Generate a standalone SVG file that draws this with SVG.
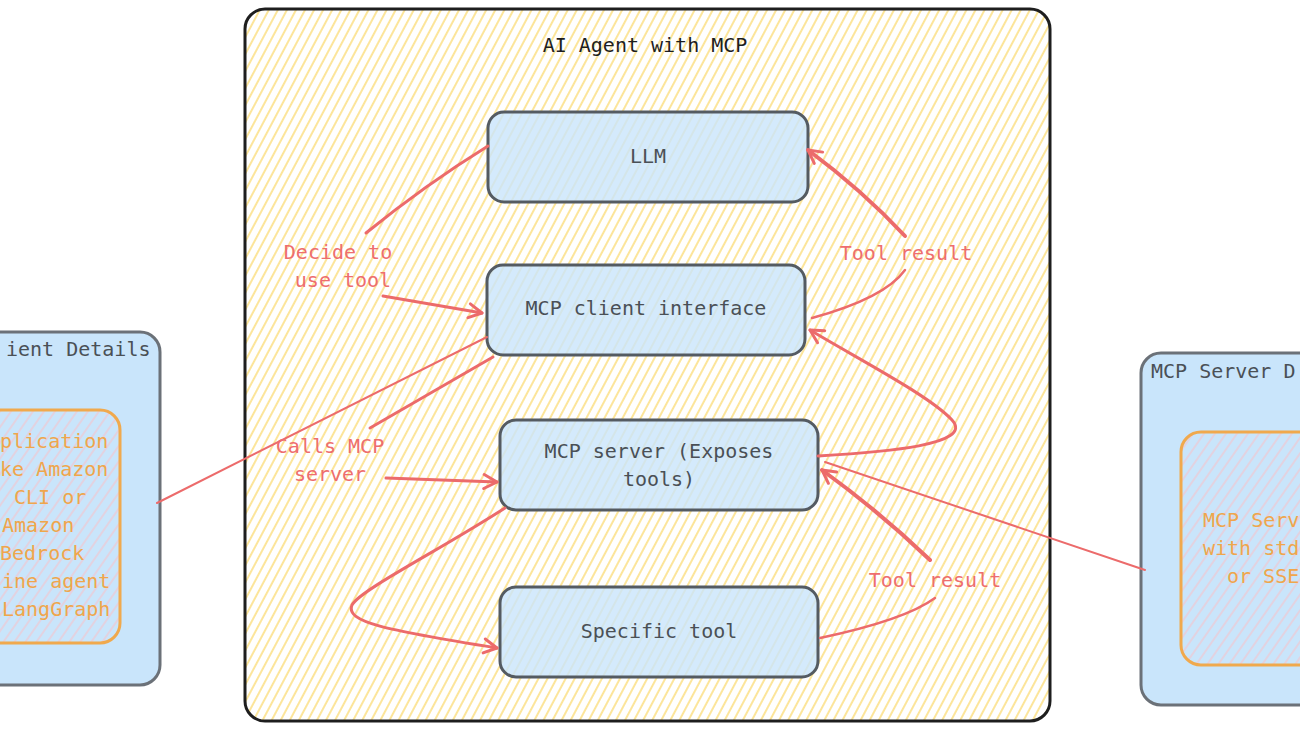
<svg xmlns="http://www.w3.org/2000/svg" width="1300" height="731" viewBox="0 0 1300 731">
<defs>
<pattern id="hatchY" width="8" height="8" patternUnits="userSpaceOnUse" patternTransform="rotate(28)">
<rect width="8" height="8" fill="#ffffff"/>
<line x1="2" y1="0" x2="2" y2="8" stroke="#fbd864" stroke-width="1.3"/>
</pattern>
<pattern id="hatchP" width="9" height="9" patternUnits="userSpaceOnUse" patternTransform="rotate(35)">
<rect width="9" height="9" fill="#c9e5fb"/>
<line x1="2" y1="0" x2="2" y2="9" stroke="#f3c6cf" stroke-width="1.2"/>
</pattern>
<marker id="arr" markerWidth="20" markerHeight="20" refX="0" refY="0" viewBox="-14 -10 18 20" orient="auto" markerUnits="userSpaceOnUse">
<path d="M-13,-7 L0,0 L-13,7" fill="none" stroke="#ec6b6b" stroke-width="3" stroke-linecap="round" stroke-linejoin="round"/>
</marker>
<style>
.node{fill:#c9e5fb;fill-opacity:0.8;stroke:#545b62;stroke-width:3}
.side{fill:#c9e5fb;stroke:#6b7178;stroke-width:3}
.inner{fill:url(#hatchP);stroke:#f0a94d;stroke-width:3}
.t{font-family:"DejaVu Sans Mono","Liberation Mono",monospace;font-size:20px;fill:#4a5056;text-anchor:middle}
.lbl{font-family:"DejaVu Sans Mono","Liberation Mono",monospace;font-size:20px;fill:#ee6e6e;text-anchor:middle}
.org{font-family:"DejaVu Sans Mono","Liberation Mono",monospace;font-size:20px;fill:#efa64c}
.ttl{font-family:"DejaVu Sans Mono","Liberation Mono",monospace;font-size:20px;fill:#4a5056}
.c{fill:none;stroke:#ec6b6b;stroke-linecap:round;stroke-linejoin:round}
</style>
</defs>
<rect width="1300" height="731" fill="#ffffff"/>

<g id="container">
<rect x="245" y="9" width="805" height="712" rx="20" fill="url(#hatchY)" stroke="#1e1e1e" stroke-width="3"/>
<text x="645" y="52" class="t" style="fill:#1e1e1e">AI Agent with MCP</text>
</g>

<g id="client-details">
<rect x="-20" y="332" width="180" height="353" rx="20" class="side"/>
<text x="6" y="356" class="ttl">ient Details</text>
<rect x="-20" y="410" width="140" height="233" rx="20" class="inner"/>
<text x="0" y="448" class="org">plication</text>
<text x="0" y="476" class="org">ke Amazon</text>
<text x="14" y="504" class="org">CLI or</text>
<text x="2" y="532" class="org">Amazon</text>
<text x="0" y="560" class="org">Bedrock</text>
<text x="2" y="588" class="org">ine agent</text>
<text x="2" y="616" class="org">LangGraph</text>
</g>

<g id="server-details">
<rect x="1141" y="353" width="200" height="352" rx="20" class="side"/>
<text x="1151" y="378" class="ttl">MCP Server D</text>
<rect x="1181" y="432" width="160" height="233" rx="20" class="inner"/>
<text x="1203" y="527" class="org">MCP Serv</text>
<text x="1203" y="555" class="org">with std</text>
<text x="1227" y="583" class="org">or SSE</text>
</g>

<g id="llm">
<rect x="488" y="112" width="320" height="90" rx="16" class="node"/>
<text x="648" y="163" class="t">LLM</text>
</g>
<g id="mcp-client">
<rect x="487" y="265" width="318" height="90" rx="16" class="node"/>
<text x="646" y="315" class="t">MCP client interface</text>
</g>
<g id="mcp-server">
<rect x="500" y="420" width="318" height="90" rx="16" class="node"/>
<text x="659" y="458" class="t">MCP server (Exposes</text>
<text x="659" y="486" class="t">tools)</text>
</g>
<g id="specific-tool">
<rect x="500" y="587" width="318" height="90" rx="16" class="node"/>
<text x="659" y="638" class="t">Specific tool</text>
</g>

<g id="connectors">
<path class="c" stroke-width="3" d="M488,146 Q425,185 366,233"/>
<path class="c" stroke-width="3" d="M383,296 L482,313" marker-end="url(#arr)"/>
<path class="c" stroke-width="4" d="M905,236 Q862,190 808,150" marker-end="url(#arr)"/>
<path class="c" stroke-width="2.5" d="M905,270 Q885,298 812,318"/>
<path class="c" stroke-width="3" d="M818,456 C885,452 975,445 952,420 C930,396 860,360 810,330" marker-end="url(#arr)"/>
<path class="c" stroke-width="2" d="M157,503 L487,337"/>
<path class="c" stroke-width="3" d="M493,357 L370,428"/>
<path class="c" stroke-width="3" d="M386,478 L497,482" marker-end="url(#arr)"/>
<path class="c" stroke-width="3" d="M505,508 C440,550 360,590 352,605 C345,622 385,630 497,648" marker-end="url(#arr)"/>
<path class="c" stroke-width="4" d="M930,560 Q880,512 822,470" marker-end="url(#arr)"/>
<path class="c" stroke-width="2.5" d="M935,598 Q905,620 820,638"/>
<path class="c" stroke-width="2" d="M825,462 L1145,570"/>
</g>

<g id="labels">
<text x="338" y="259" class="lbl">Decide to</text>
<text x="343" y="287" class="lbl">use tool</text>
<text x="906" y="260" class="lbl">Tool result</text>
<text x="330" y="453" class="lbl">Calls MCP</text>
<text x="330" y="481" class="lbl">server</text>
<text x="935" y="587" class="lbl">Tool result</text>
</g>
</svg>
